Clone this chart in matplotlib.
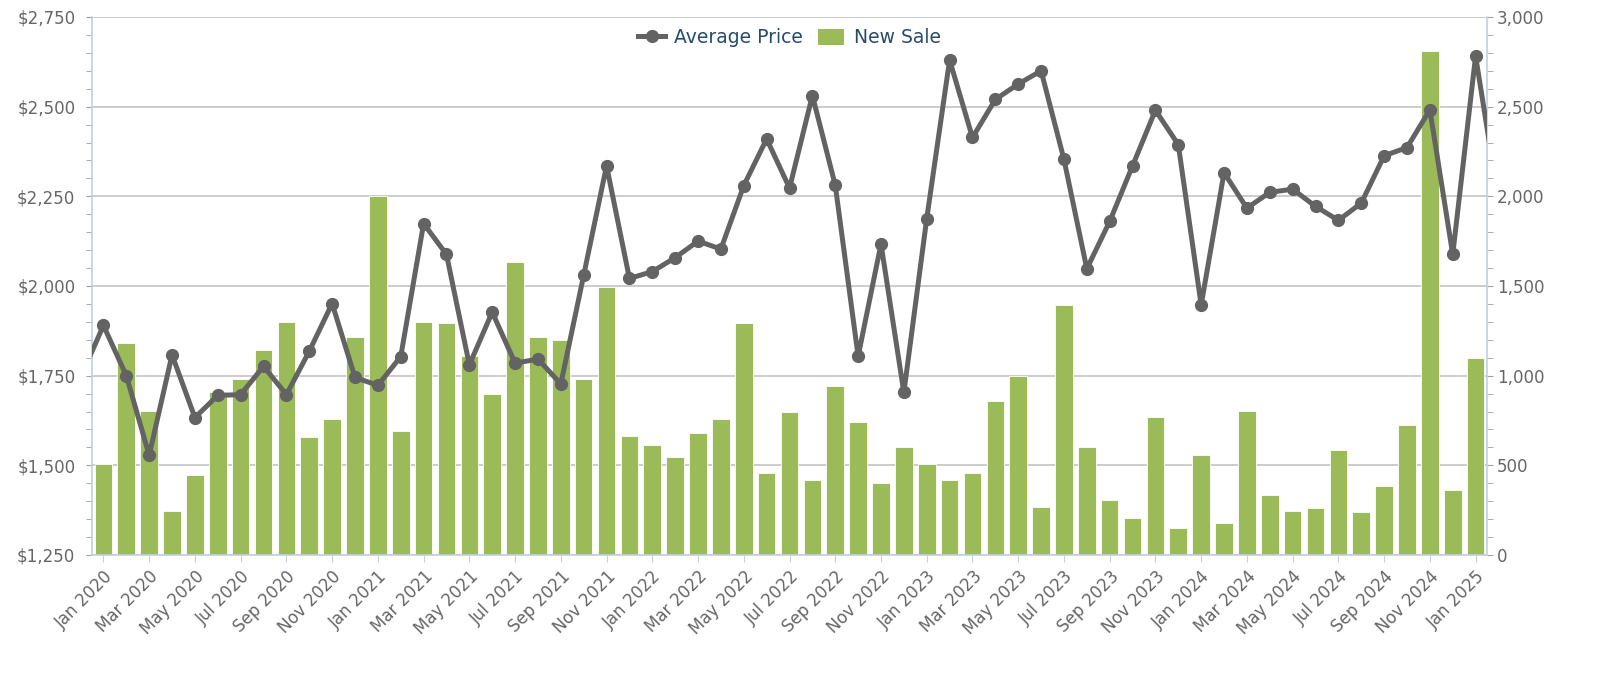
import numpy as np
import pandas as pd
import matplotlib
matplotlib.use('Agg')
import matplotlib.pyplot as plt
from matplotlib.lines import Line2D
from matplotlib.patches import Patch
from matplotlib.ticker import MultipleLocator, FuncFormatter

months = pd.date_range('2020-01-01', '2025-01-01', freq='MS')
tick_labels = [m.strftime('%b %Y') for m in months[::2]]

new_sale = [505, 1183, 804, 244, 446, 906, 979, 1144, 1301, 657, 759, 1217,
            2000, 694, 1301, 1292, 1109, 896, 1632, 1217, 1201, 979, 1496, 665,
            611, 547, 678, 759, 1292, 456, 798, 419, 944, 741, 401, 602,
            509, 419, 456, 859, 997, 269, 1392, 602, 309, 208, 769, 151,
            558, 181, 804, 336, 244, 263, 584, 238, 385, 722, 2809, 362,
            1100]

# average price runs from Dec 2019 to Feb 2025; first and last points sit off the plot edges
avg_price = [1745,
             1890, 1750, 1528, 1808, 1633, 1695, 1697, 1776, 1697, 1818, 1951, 1745,
             1723, 1803, 2174, 2088, 1780, 1927, 1785, 1796, 1727, 2030, 2335, 2021,
             2040, 2079, 2125, 2103, 2280, 2410, 2273, 2531, 2281, 1804, 2117, 1703,
             2188, 2630, 2414, 2520, 2563, 2600, 2353, 2048, 2180, 2335, 2490, 2394,
             1947, 2316, 2217, 2261, 2270, 2222, 2183, 2231, 2363, 2386, 2491, 2088,
             2641, 2240]

bar_color = '#9BBB59'
line_color = '#636363'
axis_color = '#C0D0E0'
label_color = '#666666'

x = np.arange(len(new_sale))
x_line = np.arange(-1, len(avg_price) - 1)

fig = plt.figure(figsize=(16, 6.74), dpi=100)
fig.patch.set_facecolor('white')
ax = fig.add_axes([0.0575, 0.1766, 0.8719, 0.7982])
ax2 = ax.twinx()
ax.set_zorder(ax2.get_zorder() + 1)
ax.patch.set_visible(False)

# bars on the right axis, gridlines drawn under them
ax2.bar(x, new_sale, width=0.77, color=bar_color, edgecolor='white', linewidth=0.6, zorder=2)
ax2.set_ylim(0, 3000)
ax2.yaxis.set_major_locator(MultipleLocator(500))
ax2.yaxis.set_minor_locator(MultipleLocator(100))
ax2.yaxis.set_major_formatter(FuncFormatter(lambda v, _: f'{v:,.0f}'))
ax2.grid(axis='y', which='major', color='#C4C4C4', linewidth=1.2)
ax2.set_axisbelow(True)
ax2.tick_params(axis='y', which='both', direction='out', length=4, color='#A0A0A0',
                labelsize=12, labelcolor=label_color, pad=3)

# price line on the left axis
ax.plot(x_line, avg_price, color=line_color, linewidth=3.6, marker='o', markersize=8.5, zorder=3)
ax.set_ylim(1250, 2750)
ax.yaxis.set_major_locator(MultipleLocator(250))
ax.yaxis.set_minor_locator(MultipleLocator(50))
ax.yaxis.set_major_formatter(FuncFormatter(lambda v, _: f'${v:,.0f}'))
ax.tick_params(axis='y', which='both', direction='out', length=4, color='#A0A0A0',
               labelsize=12, labelcolor=label_color, pad=8)

ax.set_xlim(-0.5, len(new_sale) - 0.5)
ax.set_xticks(x[::2])
ax.set_xticklabels(tick_labels, rotation=45, ha='right', rotation_mode='anchor')
ax.tick_params(axis='x', direction='out', length=5, color=axis_color,
               labelsize=12, labelcolor=label_color, pad=4)

for side in ['top', 'right']:
    ax.spines[side].set_visible(False)
for side in ['top', 'left', 'bottom']:
    ax2.spines[side].set_visible(False)
ax.spines['left'].set_color(axis_color)
ax.spines['bottom'].set_color(axis_color)
ax2.spines['right'].set_color(axis_color)
for sp in [ax.spines['left'], ax.spines['bottom'], ax2.spines['right']]:
    sp.set_linewidth(1.2)

handles = [Line2D([], [], color=line_color, linewidth=3.6, marker='o', markersize=8.5),
           Patch(facecolor=bar_color, joinstyle='round')]
leg = ax.legend(handles, ['Average Price', 'New Sale'], loc='center', bbox_to_anchor=(0.5, 0.961),
                ncol=2, frameon=False, fontsize=13.5, labelcolor='#274b6d',
                handlelength=1.4, handleheight=1.0, handletextpad=0.5, columnspacing=0.8)

fig.savefig('out.png', dpi=100)
